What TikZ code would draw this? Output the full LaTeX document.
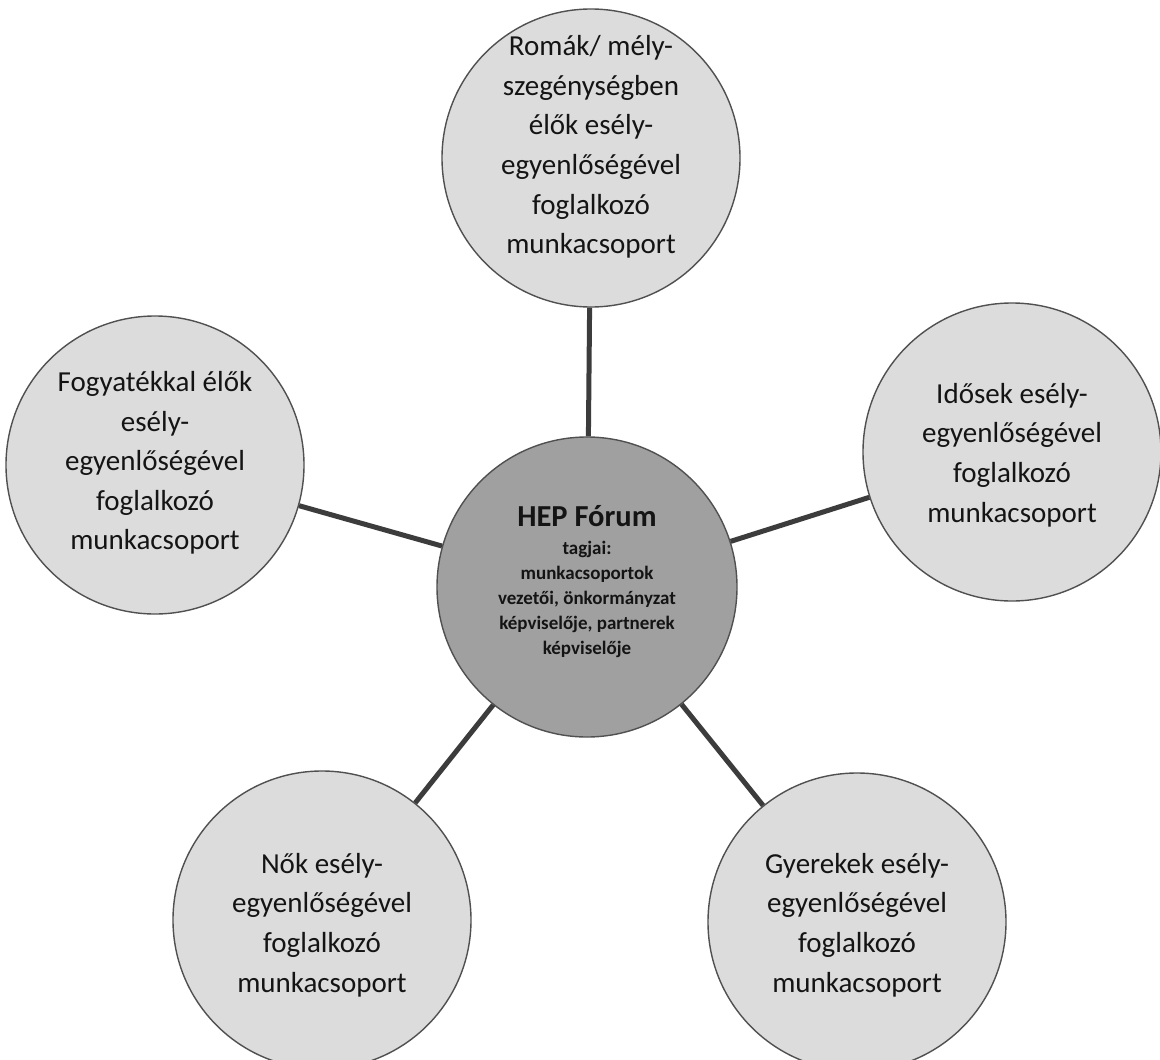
\documentclass[tikz,border=0pt]{standalone}
\usepackage{fontspec}
\setmainfont{Carlito}
\definecolor{satfill}{HTML}{DCDCDC}
\definecolor{cenfill}{HTML}{A0A0A0}
\definecolor{rim}{HTML}{505050}
\definecolor{linkc}{HTML}{3C3C3C}
\definecolor{txt}{HTML}{141414}
\begin{document}
\begin{tikzpicture}[x=1pt,y=-1pt,
  sat/.style={circle,draw=rim,line width=1.4pt,fill=satfill,minimum size=298pt,inner sep=0pt},
  cen/.style={circle,draw=rim,line width=1.4pt,fill=cenfill,minimum size=300pt,inner sep=0pt},
  lbl/.style={align=center,text=txt,font=\fontsize{29}{39.6}\selectfont,inner sep=0pt},
  clbl/.style={align=center,text=txt,inner sep=0pt,font=\bfseries\fontsize{19}{25}\selectfont},
  conn/.style={draw=linkc,line width=5pt}]
\useasboundingbox (0,0) rectangle (1160,1060);
\fill[white] (0,0) rectangle (1160,1060);
\node[cen] (hep) at (587,587) {};
\node[sat] (roma) at (591,158) {};
\node[sat] (fogy) at (155,465) {};
\node[sat] (idos) at (1012,452) {};
\node[sat] (nok) at (322,920) {};
\node[sat] (gyer) at (857,922) {};
\draw[conn] (hep) -- (roma);
\draw[conn] (hep) -- (fogy);
\draw[conn] (hep) -- (idos);
\draw[conn] (hep) -- (nok);
\draw[conn] (hep) -- (gyer);
\node[lbl] (romat) at (591,147) {Romák/ mély-\\szegénységben\\élők esély-\\egyenlőségével\\foglalkozó\\munkacsoport};
\node[lbl] (fogyt) at (155,463) {Fogyatékkal élők\\esély-\\egyenlőségével\\foglalkozó\\munkacsoport};
\node[lbl] (idost) at (1012,455) {Idősek esély-\\egyenlőségével\\foglalkozó\\munkacsoport};
\node[lbl] (nokt) at (322,925) {Nők esély-\\egyenlőségével\\foglalkozó\\munkacsoport};
\node[lbl] (gyert) at (857,925) {Gyerekek esély-\\egyenlőségével\\foglalkozó\\munkacsoport};
\node[clbl] (hept) at (587,582) {\fontsize{30.5}{36}\selectfont HEP Fórum\\[3pt]
  \fontsize{19}{25}\selectfont tagjai:\\munkacsoportok\\vezetői, önkormányzat\\képviselője, partnerek\\képviselője};
\end{tikzpicture}
\end{document}
